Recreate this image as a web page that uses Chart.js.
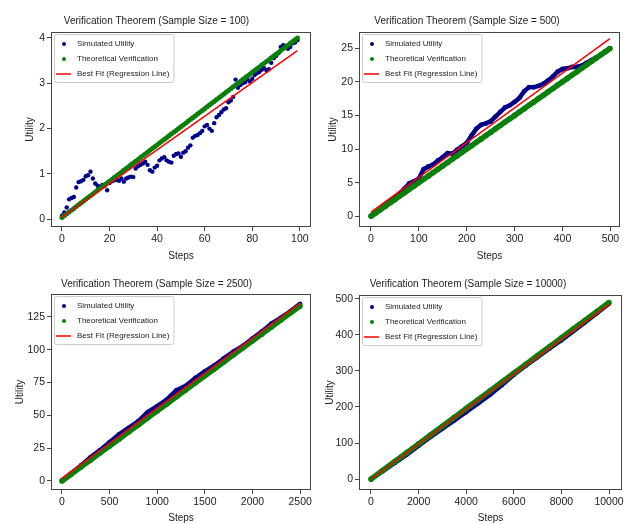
<!DOCTYPE html>
<html>
<head>
<meta charset="utf-8">
<script src="https://cdn.jsdelivr.net/npm/chart.js@4.4.0/dist/chart.umd.min.js"></script>
<style>
body { margin: 0; background: #fff; }
#wrap { position: relative; width: 629px; height: 524px; overflow: hidden; }
#wrap canvas { position: absolute; }
</style>
</head>
<body>
<div id="wrap">
  <canvas id="c1" width="315" height="262" style="left:0;top:0"></canvas>
  <canvas id="c2" width="315" height="262" style="left:314px;top:0"></canvas>
  <canvas id="c3" width="315" height="262" style="left:0;top:262px"></canvas>
  <canvas id="c4" width="315" height="262" style="left:314px;top:262px"></canvas>
</div>
<script>
// ---- data ----
const legendLabels = ['Simulated Utility', 'Theoretical Verification', 'Best Fit (Regression Line)'];

// sample size 100 (one value per step 0..99)
const sim100 = [
  0.08, 0.15, 0.26, 0.44, 0.47, 0.49, 0.70, 0.82, 0.84, 0.87,
  0.95, 0.97, 1.05, 0.90, 0.79, 0.74, 0.72, 0.76, 0.74, 0.64,
  0.80, 0.84, 0.86, 0.87, 0.85, 0.90, 0.83, 0.90, 0.92, 0.94,
  0.93, 1.12, 1.17, 1.20, 1.23, 1.27, 1.20, 1.08, 1.05, 1.14,
  1.18, 1.30, 1.34, 1.37, 1.30, 1.27, 1.25, 1.40, 1.44, 1.45,
  1.38, 1.47, 1.50, 1.58, 1.63, 1.80, 1.84, 1.86, 1.90, 1.95,
  2.05, 2.08, 2.00, 1.95, 2.12, 2.25, 2.30, 2.36, 2.42, 2.45,
  2.58, 2.62, 2.70, 3.08, 2.90, 2.96, 3.00, 3.02, 3.08, 3.04,
  3.10, 3.18, 3.22, 3.25, 3.30, 3.33, 3.28, 3.31, 3.45, 3.55,
  3.60, 3.66, 3.80, 3.84, 3.82, 3.76, 3.80, 3.88, 3.90, 3.95
];
const theo100 = [
  0.04, 0.08, 0.12, 0.16, 0.20, 0.24, 0.28, 0.32, 0.36, 0.40,
  0.44, 0.48, 0.52, 0.56, 0.60, 0.64, 0.68, 0.72, 0.76, 0.80,
  0.84, 0.88, 0.92, 0.96, 1.00, 1.04, 1.08, 1.12, 1.16, 1.20,
  1.24, 1.28, 1.32, 1.36, 1.40, 1.44, 1.48, 1.52, 1.56, 1.60,
  1.64, 1.68, 1.72, 1.76, 1.80, 1.84, 1.88, 1.92, 1.96, 2.00,
  2.04, 2.08, 2.12, 2.16, 2.20, 2.24, 2.28, 2.32, 2.36, 2.40,
  2.44, 2.48, 2.52, 2.56, 2.60, 2.64, 2.68, 2.72, 2.76, 2.80,
  2.84, 2.88, 2.92, 2.96, 3.00, 3.04, 3.08, 3.12, 3.16, 3.20,
  3.24, 3.28, 3.32, 3.36, 3.40, 3.44, 3.48, 3.52, 3.56, 3.60,
  3.64, 3.68, 3.72, 3.76, 3.80, 3.84, 3.88, 3.92, 3.96, 4.00
];
const fitX100 = [0, 99];
const fitY100 = [0.05, 3.72];

// sample size 500 (read every 10 steps)
const steps500 = [0, 10, 20, 30, 40, 50, 60, 70, 80, 90, 100, 110, 120, 130, 140, 150, 160, 170, 180, 190,
  200, 210, 220, 230, 240, 250, 260, 270, 280, 290, 300, 310, 320, 330, 340, 350, 360, 370, 380, 390,
  400, 410, 420, 430, 440, 450, 460, 470, 480, 490, 499];
const sim500 = [0.1, 0.6, 1.1, 1.7, 2.3, 2.8, 3.4, 4.1, 4.9, 5.2, 5.6, 7.0, 7.4, 7.7, 8.3, 8.8, 9.4, 9.3, 9.9, 10.4,
  10.9, 12.0, 13.0, 13.6, 13.8, 14.1, 14.8, 15.5, 16.2, 16.5, 17.0, 17.6, 18.6, 19.2, 19.2, 19.4, 19.7, 20.2, 20.8, 21.5,
  21.9, 22.0, 22.2, 22.2, 22.4, 22.8, 23.2, 23.6, 24.0, 24.5, 25.0];
const theo500 = [0, 0.5, 1.0, 1.5, 2.0, 2.5, 3.0, 3.5, 4.0, 4.5, 5.0, 5.5, 6.0, 6.5, 7.0, 7.5, 8.0, 8.5, 9.0, 9.5,
  10.0, 10.5, 11.0, 11.5, 12.0, 12.5, 13.0, 13.5, 14.0, 14.5, 15.0, 15.5, 16.0, 16.5, 17.0, 17.5, 18.0, 18.5, 19.0, 19.5,
  20.0, 20.5, 21.0, 21.5, 22.0, 22.5, 23.0, 23.5, 24.0, 24.5, 24.95];
const fitX500 = [0, 499];
const fitY500 = [0.6, 26.4];

// sample size 2500 (read every 100 steps)
const steps2500 = [0, 100, 200, 300, 400, 500, 600, 700, 800, 900, 1000, 1100, 1200,
  1300, 1400, 1500, 1600, 1700, 1800, 1900, 2000, 2100, 2200, 2300, 2400, 2499];
const sim2500 = [0.3, 6.0, 11.8, 18.0, 23.5, 29.5, 35.5, 40.5, 45.5, 52.5, 57.0, 62.0, 69.0,
  72.5, 78.5, 83.5, 88.0, 93.5, 98.5, 103.0, 108.5, 114.0, 120.0, 124.5, 129.5, 135.0];
const theo2500 = [0, 5.3, 10.7, 16.0, 21.4, 26.7, 32.0, 37.4, 42.7, 48.1, 53.4, 58.7, 64.1,
  69.4, 74.8, 80.1, 85.4, 90.8, 96.1, 101.5, 106.8, 112.1, 117.5, 122.8, 128.2, 133.4];
const fitX2500 = [0, 2499];
const fitY2500 = [2.0, 135.5];

// sample size 10000 (read every 500 steps)
const steps10000 = [0, 500, 1000, 1500, 2000, 2500, 3000, 3500, 4000, 4500, 5000,
  5500, 6000, 6500, 7000, 7500, 8000, 8500, 9000, 9500, 9999];
const sim10000 = [0, 22, 45, 68, 93, 117, 140, 163, 186, 210, 234,
  261, 289, 314, 338, 362, 385, 410, 435, 460, 486];
const theo10000 = [0, 24.5, 48.9, 73.4, 97.8, 122.3, 146.7, 171.2, 195.6, 220.1, 244.5,
  269.0, 293.4, 317.9, 342.3, 366.8, 391.2, 415.7, 440.1, 464.6, 489.0];
const fitX10000 = [0, 9999];
const fitY10000 = [0.5, 484];

// tick labels
const xTicks100 = [0, 20, 40, 60, 80, 100];
const yTicks100 = [0, 1, 2, 3, 4];
const xTicks500 = [0, 100, 200, 300, 400, 500];
const yTicks500 = [0, 5, 10, 15, 20, 25];
const xTicks2500 = [0, 500, 1000, 1500, 2000, 2500];
const yTicks2500 = [0, 25, 50, 75, 100, 125];
const xTicks10000 = [0, 2000, 4000, 6000, 8000, 10000];
const yTicks10000 = [0, 100, 200, 300, 400, 500];

// ---- drawing ----
const FONT = "'Liberation Sans', Arial, sans-serif";
const NAVY = '#00008b';
const GREEN = '#0a800a';
const RED = '#ff0000';
const INK = '#222';

const pts = (xs, ys) => ys.map((y, i) => ({ x: xs[i], y: y }));
const idx = ys => ys.map((y, i) => ({ x: i, y: y }));

// axes frame like matplotlib spines
const framePlugin = {
  id: 'frame',
  afterDraw(chart) {
    const { ctx, chartArea: a } = chart;
    ctx.save();
    ctx.strokeStyle = '#444';
    ctx.lineWidth = 1;
    ctx.strokeRect(a.left + 0.5, a.top + 0.5, a.right - a.left - 1, a.bottom - a.top - 1);
    ctx.restore();
  }
};

// legend box in the upper left corner of the axes
const legendBoxPlugin = {
  id: 'legendBox',
  afterDatasetsDraw(chart) {
    const { ctx, chartArea: a } = chart;
    const ds = chart.data.datasets;
    ctx.save();
    ctx.font = '8px ' + FONT;
    let w = 0;
    legendLabels.forEach(t => { w = Math.max(w, ctx.measureText(t).width); });
    const x = a.left + 3, y = a.top + 2, bw = w + 27, bh = 48;
    ctx.fillStyle = 'rgba(255,255,255,0.85)';
    ctx.strokeStyle = '#cccccc';
    ctx.lineWidth = 1;
    ctx.beginPath();
    ctx.roundRect(x + 0.5, y + 0.5, bw, bh, 2);
    ctx.fill();
    ctx.stroke();
    legendLabels.forEach((t, i) => {
      const ry = y + 10 + i * 15;
      if (i < 2) {
        ctx.fillStyle = ds[i].backgroundColor;
        ctx.beginPath();
        ctx.arc(x + 10, ry, 2, 0, Math.PI * 2);
        ctx.fill();
      } else {
        ctx.strokeStyle = RED;
        ctx.lineWidth = 1.5;
        ctx.beginPath();
        ctx.moveTo(x + 2, ry);
        ctx.lineTo(x + 17, ry);
        ctx.stroke();
      }
      ctx.fillStyle = INK;
      ctx.textBaseline = 'middle';
      ctx.fillText(t, x + 23, ry);
    });
    ctx.restore();
  }
};

function makePanel(id, p) {
  new Chart(document.getElementById(id), {
    type: 'scatter',
    data: {
      datasets: [
        {
          label: legendLabels[0], data: p.sim, order: 3,
          backgroundColor: NAVY, borderColor: NAVY,
          pointRadius: p.dense ? 2.4 : 2.2, pointBorderWidth: 0,
          showLine: p.dense, borderWidth: 4.5
        },
        {
          label: legendLabels[1], data: p.theo, order: 2,
          backgroundColor: GREEN, borderColor: GREEN,
          pointRadius: p.dense ? 2.8 : 2.5, pointBorderWidth: 0,
          showLine: true, borderWidth: p.dense ? 5.5 : 3.8
        },
        {
          label: legendLabels[2], data: p.fit, order: 1,
          borderColor: RED, backgroundColor: RED,
          showLine: true, pointRadius: 0, borderWidth: 1.5
        }
      ]
    },
    options: {
      responsive: false,
      animation: false,
      layout: { padding: { left: 0, right: p.padRight, top: 0, bottom: 0 } },
      plugins: {
        legend: { display: false },
        tooltip: { enabled: false },
        title: {
          display: true, text: p.title, color: INK,
          font: { family: FONT, size: 10, weight: 'normal' },
          padding: { top: p.titleTop, bottom: p.titleBottom }
        }
      },
      scales: {
        x: {
          type: 'linear', min: p.xMin, max: p.xMax,
          afterBuildTicks: s => { s.ticks = p.xTicks.map(v => ({ value: v })); },
          afterFit: s => { s.height = p.xAxisH; },
          ticks: { color: INK, font: { family: FONT, size: 10.5 }, padding: 2, maxRotation: 0, autoSkip: false, callback: v => String(v) },
          grid: { drawOnChartArea: false, tickLength: 4, color: '#444' },
          border: { display: false },
          title: { display: true, text: 'Steps', color: INK, font: { family: FONT, size: 10 }, padding: { top: 0, bottom: 0 } }
        },
        y: {
          type: 'linear', min: p.yMin, max: p.yMax,
          afterBuildTicks: s => { s.ticks = p.yTicks.map(v => ({ value: v })); },
          afterFit: s => { s.width = p.yAxisW; },
          ticks: { color: INK, font: { family: FONT, size: 10.5 }, padding: 2, autoSkip: false, callback: v => String(v) },
          grid: { drawOnChartArea: false, tickLength: 4, color: '#444' },
          border: { display: false },
          title: { display: true, text: 'Utility', color: INK, font: { family: FONT, size: 10 }, padding: { top: p.yTitlePad, bottom: 0 } }
        }
      }
    },
    plugins: [framePlugin, legendBoxPlugin]
  });
}

makePanel('c1', {
  title: 'Verification Theorem (Sample Size = 100)',
  sim: idx(sim100), theo: idx(theo100), fit: pts(fitX100, fitY100), dense: false,
  xMin: -4.6, xMax: 104.7, yMin: -0.17, yMax: 4.13,
  xTicks: xTicks100, yTicks: yTicks100,
  padRight: 2, yAxisW: 51, xAxisH: 35, titleTop: 15, titleBottom: 5, yTitlePad: 24
});

makePanel('c2', {
  title: 'Verification Theorem (Sample Size = 500)',
  sim: pts(steps500, sim500), theo: pts(steps500, theo500), fit: pts(fitX500, fitY500), dense: true,
  xMin: -25, xMax: 520, yMin: -1.6, yMax: 27.4,
  xTicks: xTicks500, yTicks: yTicks500,
  padRight: 9, yAxisW: 45, xAxisH: 35, titleTop: 15, titleBottom: 5, yTitlePad: 13
});

makePanel('c3', {
  title: 'Verification Theorem (Sample Size = 2500)',
  sim: pts(steps2500, sim2500), theo: pts(steps2500, theo2500), fit: pts(fitX2500, fitY2500), dense: true,
  xMin: -115, xMax: 2614, yMin: -6.9, yMax: 142.5,
  xTicks: xTicks2500, yTicks: yTicks2500,
  padRight: 2, yAxisW: 51, xAxisH: 34, titleTop: 16, titleBottom: 4, yTitlePad: 14
});

makePanel('c4', {
  title: 'Verification Theorem (Sample Size = 10000)',
  sim: pts(steps10000, sim10000), theo: pts(steps10000, theo10000), fit: pts(fitX10000, fitY10000), dense: true,
  xMin: -504, xMax: 10546, yMin: -30, yMax: 510,
  xTicks: xTicks10000, yTicks: yTicks10000,
  padRight: 7, yAxisW: 45, xAxisH: 34, titleTop: 16, titleBottom: 5, yTitlePad: 10
});
</script>
</body>
</html>
